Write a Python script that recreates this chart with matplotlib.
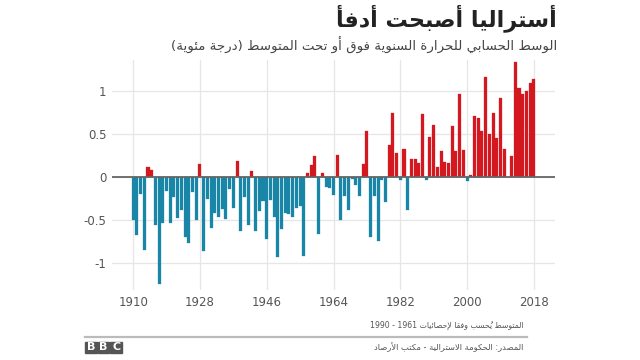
import numpy as np
import matplotlib
matplotlib.use("Agg")
import matplotlib.pyplot as plt
from matplotlib.patches import Rectangle
from matplotlib.lines import Line2D

# annual mean temperature anomaly, Australia (deg C, vs 1961-1990)
start_year = 1910
anomaly = [
    -0.50, -0.67, -0.19, -0.85, 0.12, 0.08, -0.55, -1.24, -0.53, -0.16,   # 1910s
    -0.53, -0.23, -0.47, -0.38, -0.70, -0.77, -0.17, -0.50, 0.15, -0.86,  # 1920s
    -0.25, -0.59, -0.42, -0.46, -0.37, -0.48, -0.14, -0.36, 0.19, -0.62,  # 1930s
    -0.23, -0.55, 0.07, -0.62, -0.39, -0.28, -0.72, -0.27, -0.46, -0.93,  # 1940s
    -0.60, -0.42, -0.43, -0.46, -0.36, -0.34, -0.92, 0.05, 0.14, 0.24,    # 1950s
    -0.66, 0.05, -0.11, -0.13, -0.21, 0.26, -0.50, -0.22, -0.38, -0.02,   # 1960s
    -0.09, -0.22, 0.15, 0.53, -0.70, -0.22, -0.74, -0.03, -0.29, 0.37,    # 1970s
    0.74, 0.28, -0.03, 0.33, -0.38, 0.21, 0.21, 0.17, 0.73, -0.03,        # 1980s
    0.47, 0.60, 0.12, 0.30, 0.18, 0.16, 0.59, 0.30, 0.96, 0.31,           # 1990s
    -0.04, 0.03, 0.71, 0.69, 0.53, 1.16, 0.50, 0.75, 0.45, 0.92,          # 2000s
    0.33, 0.0, 0.24, 1.34, 1.04, 0.96, 1.00, 1.09, 1.14,                  # 2010s
]
years = np.arange(start_year, start_year + len(anomaly))
x_ticks = [1910, 1928, 1946, 1964, 1982, 2000, 2018]
y_ticks = [-1, -0.5, 0, 0.5, 1]
y_labels = ["-1", "-0.5", "0", "0.5", "1"]

title = "أستراليا أصبحت أدفأ"
subtitle = "الوسط الحسابي للحرارة السنوية فوق أو تحت المتوسط (درجة مئوية)"
note = "المتوسط يُحسب وفقا لإحصائيات 1961 - 1990"
source = "المصدر: الحكومة الاسترالية - مكتب الأرصاد"

# --- tiny arabic shaping + rtl ordering (no reshaper lib available) ---
FORMS = {}
_b = 0xFE80
_chars = [chr(c) for c in list(range(0x0621, 0x063B)) + list(range(0x0641, 0x064B))]
_counts = [1, 2, 2, 2, 2, 4, 2, 4, 2, 4, 4, 4, 4, 4, 2, 2, 2, 2, 4, 4, 4, 4, 4, 4, 4, 4,
           4, 4, 4, 4, 4, 4, 4, 2, 2, 4]
for ch, n in zip(_chars, _counts):
    FORMS[ch] = (_b, n)
    _b += n
LAM_ALEF = {"\u0622": 0xFEF5, "\u0623": 0xFEF7, "\u0625": 0xFEF9, "\u0627": 0xFEFB}


def joins_next(c):
    return c in FORMS and FORMS[c][1] == 4


def joins_prev(c):
    return (c in FORMS and FORMS[c][1] >= 2) or c.startswith("LA")


def rtl(text):
    cl = []
    for ch in text:
        if 0x064B <= ord(ch) <= 0x065F and cl:
            cl[-1][1] += ch
        else:
            cl.append([ch, ""])
    merged = []
    i = 0
    while i < len(cl):
        if cl[i][0] == "\u0644" and i + 1 < len(cl) and cl[i + 1][0] in LAM_ALEF:
            merged.append(["LA" + cl[i + 1][0], cl[i][1] + cl[i + 1][1]])
            i += 2
        else:
            merged.append(cl[i])
            i += 1
    tokens = []
    num = ""
    for i, (c, mk) in enumerate(merged):
        if c.isdigit():
            num += c
            continue
        if num:
            tokens.append(num)
            num = ""
        p = i > 0 and joins_next(merged[i - 1][0]) and joins_prev(c)
        n = joins_next(c) and i + 1 < len(merged) and joins_prev(merged[i + 1][0])
        if c.startswith("LA"):
            g = chr(LAM_ALEF[c[2]] + (1 if p else 0))
        elif c in FORMS:
            base, k = FORMS[c]
            idx = 3 if (p and n) else 1 if p else 2 if n else 0
            g = chr(base + idx)
        else:
            g = {"(": ")", ")": "("}.get(c, c)
        tokens.append(mk + g)
    if num:
        tokens.append(num)
    return "".join(tokens[::-1])


plt.rcParams["font.family"] = ["DejaVu Sans"]

fig = plt.figure(figsize=(6.4, 3.6), dpi=100)
ax = fig.add_axes([112 / 640, 1 - 290 / 360, 443 / 640, 230 / 360])

colors = ["#d3191f" if v > 0 else "#1a86a7" for v in anomaly]
ax.bar(years, anomaly, width=0.82, color=colors, edgecolor=colors, linewidth=0.2, zorder=2)
ax.axhline(0, color="#666666", lw=1.3, zorder=3)

ax.set_xlim(1904.3, 2023.7)
ax.set_ylim(-1.31, 1.36)
ax.set_xticks(x_ticks)
ax.set_xticklabels([str(y) for y in x_ticks])
ax.set_yticks(y_ticks)
ax.set_yticklabels(y_labels)
ax.grid(True, color="#e6e6e6", lw=0.9, zorder=0)
ax.set_axisbelow(True)
for s in ax.spines.values():
    s.set_visible(False)
ax.tick_params(length=0, labelsize=8.5, colors="#555555", pad=4)

fig.text(557 / 640, 1 - 18 / 360, rtl(title), ha="right", va="center",
         fontsize=16, fontweight="bold", color="#222222")
fig.text(557 / 640, 1 - 45 / 360, rtl(subtitle), ha="right", va="center",
         fontsize=9.6, color="#444444")
fig.text(523 / 640, 1 - 325 / 360, rtl(note), ha="right", va="center",
         fontsize=5.6, color="#555555")
fig.text(523 / 640, 1 - 347 / 360, rtl(source), ha="right", va="center",
         fontsize=6, color="#555555")

fig.add_artist(Line2D([85 / 640, 527 / 640], [1 - 337 / 360] * 2,
                      transform=fig.transFigure, color="#bbbbbb", lw=1.6))

# BBC blocks
for k, letter in enumerate("BBC"):
    x0 = 85 + k * 12.7
    fig.add_artist(Rectangle((x0 / 640, 1 - 353 / 360), 11.5 / 640, 11.5 / 360,
                             transform=fig.transFigure, color="#555555"))
    fig.text((x0 + 5.75) / 640, 1 - 347.3 / 360, letter, ha="center", va="center",
             fontsize=8, fontweight="bold", color="white")

fig.savefig("out.png", dpi=100)
